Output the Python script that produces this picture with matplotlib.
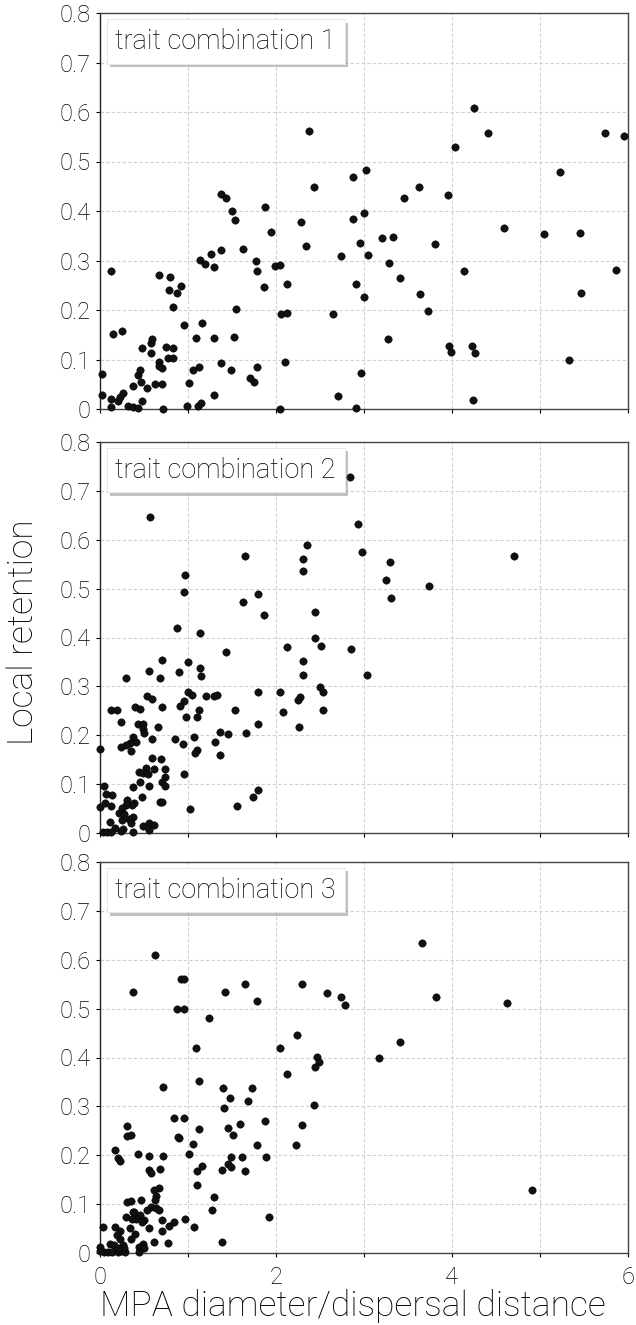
import matplotlib
matplotlib.use('Agg')
import matplotlib.pyplot as plt
import matplotlib.patheffects as pe

plt.rcParams['font.family'] = ['Roboto', 'DejaVu Sans']
plt.rcParams['font.weight'] = 'light'

# trait combination 1
x1 = [0.02, 0.02, 0.13, 0.15, 0.25, 0.13, 0.13, 0.20, 0.23, 0.26, 0.32, 0.38, 0.43, 0.38, 0.43,
      0.46, 0.47, 0.48, 0.53, 0.48, 0.58, 0.58, 0.59, 0.63, 0.67, 0.67, 0.71, 0.71, 0.72, 0.75,
      0.77, 0.83, 0.83, 0.67, 0.80, 0.78, 0.88, 0.92, 0.83, 0.95, 1.01, 0.99, 1.06, 1.13, 1.09,
      1.16, 1.11, 1.15, 1.14, 1.19, 1.26, 1.29, 1.29, 1.30, 1.37, 1.37, 1.38, 1.43, 1.50, 1.53,
      1.55, 1.52, 1.49, 1.63, 1.70, 1.75, 1.78, 1.77, 1.78, 1.86, 1.88, 1.94, 1.99, 2.05, 2.06,
      2.12, 2.12, 2.10, 2.05, 2.28, 2.34, 2.37, 2.43, 2.65, 2.70, 2.74, 2.88, 2.88, 2.91, 2.95,
      3.00, 3.00, 3.02, 3.04, 2.97, 2.91,
      4.25, 4.41, 4.03, 5.74, 5.95, 5.23, 3.63, 3.46, 3.96, 4.59, 5.04, 5.45, 3.20, 3.33, 3.81,
      3.28, 3.41, 4.14, 5.86, 3.64, 3.73, 5.47, 3.27, 3.97, 3.99, 4.23, 4.26, 5.33, 4.24]
y1 = [0.071, 0.028, 0.278, 0.152, 0.157, 0.020, 0.005, 0.017, 0.025, 0.032, 0.007, 0.005, 0.002, 0.046, 0.068,
      0.078, 0.054, 0.017, 0.043, 0.123, 0.113, 0.133, 0.142, 0.051, 0.095, 0.086, 0.082, 0.051, 0.000, 0.125,
      0.103, 0.103, 0.123, 0.270, 0.266, 0.240, 0.235, 0.248, 0.206, 0.170, 0.053, 0.007, 0.079, 0.084, 0.143,
      0.174, 0.007, 0.012, 0.302, 0.292, 0.314, 0.286, 0.143, 0.028, 0.321, 0.093, 0.434, 0.427, 0.399, 0.382,
      0.203, 0.145, 0.079, 0.324, 0.063, 0.055, 0.084, 0.299, 0.278, 0.247, 0.409, 0.358, 0.289, 0.291, 0.191,
      0.193, 0.252, 0.095, 0.000, 0.378, 0.330, 0.561, 0.448, 0.191, 0.027, 0.309, 0.468, 0.384, 0.252, 0.336,
      0.395, 0.226, 0.483, 0.312, 0.073, 0.002,
      0.609, 0.557, 0.530, 0.557, 0.552, 0.479, 0.449, 0.426, 0.432, 0.366, 0.353, 0.356, 0.346, 0.348, 0.334,
      0.294, 0.264, 0.278, 0.280, 0.232, 0.197, 0.235, 0.141, 0.127, 0.116, 0.128, 0.113, 0.099, 0.018]

# trait combination 2
x2 = [2.84, 0.565, 2.93, 2.35, 2.98, 1.65, 2.31, 2.31, 0.97, 0.95, 1.63, 1.80, 1.86, 2.44, 0.87,
      1.14, 2.44, 2.51, 2.12, 2.85, 1.43, 0.70, 1.00, 2.31, 2.31, 3.03, 0.56, 0.90, 1.14, 1.15,
      0.29, 0.68, 0.53, 0.59, 1.00, 1.04, 1.21, 1.30, 1.33, 1.79, 2.05, 2.50, 2.53, 2.27, 2.25,
      0.96, 0.91, 0.70, 0.13, 0.19, 0.40, 0.45, 1.13, 1.53, 2.53, 2.08, 0.98, 1.10, 0.24, 0.43,
      0.49, 0.66, 1.80, 2.26, 0.49, 0.50, 1.36, 1.46, 1.66, 0.38, 0.41, 0.59, 0.85, 1.07, 0.94,
      1.31, 0.34, 0.29, 0.24, 0.35, 0.00, 1.10, 1.08, 1.36, 0.59, 0.69, 0.52, 0.61, 0.74, 0.44,
      0.49, 0.54, 0.95, 0.74, 0.46, 0.71, 0.74, 0.56, 0.38, 0.05, 0.07, 0.14, 0.48, 0.31, 1.79,
      1.74, 0.68, 0.70, 0.39, 0.36, 0.30, 0.00, 0.06, 0.12, 0.25, 1.02, 1.56, 0.22, 0.27, 0.38,
      0.33, 0.25, 0.35, 0.11, 0.49, 0.56, 0.61, 0.56, 0.17, 0.26, 0.03, 0.08, 0.12, 0.24, 0.37,
      3.30, 4.70, 3.25, 3.74, 3.31]
y2 = [0.728, 0.646, 0.632, 0.590, 0.575, 0.567, 0.561, 0.537, 0.527, 0.493, 0.473, 0.488, 0.446, 0.452, 0.420,
      0.409, 0.399, 0.382, 0.380, 0.377, 0.370, 0.354, 0.349, 0.351, 0.324, 0.324, 0.332, 0.329, 0.338, 0.322,
      0.318, 0.318, 0.281, 0.275, 0.289, 0.282, 0.281, 0.281, 0.283, 0.289, 0.289, 0.298, 0.288, 0.279, 0.273,
      0.271, 0.260, 0.257, 0.252, 0.252, 0.257, 0.253, 0.252, 0.252, 0.252, 0.247, 0.238, 0.238, 0.228, 0.224,
      0.223, 0.217, 0.224, 0.217, 0.212, 0.204, 0.207, 0.203, 0.205, 0.197, 0.187, 0.192, 0.192, 0.197, 0.183,
      0.187, 0.184, 0.180, 0.175, 0.168, 0.171, 0.170, 0.164, 0.160, 0.154, 0.151, 0.134, 0.130, 0.130, 0.125,
      0.123, 0.120, 0.120, 0.114, 0.105, 0.105, 0.097, 0.097, 0.094, 0.097, 0.080, 0.077, 0.073, 0.068, 0.089,
      0.073, 0.064, 0.064, 0.062, 0.057, 0.057, 0.053, 0.062, 0.055, 0.051, 0.050, 0.055, 0.041, 0.038, 0.032,
      0.029, 0.027, 0.021, 0.022, 0.014, 0.021, 0.017, 0.007, 0.010, 0.008, 0.002, 0.002, 0.003, 0.005, 0.003,
      0.555, 0.566, 0.518, 0.506, 0.481]

# trait combination 3
x3 = [0.63, 0.92, 0.95, 0.38, 1.42, 1.65, 2.29, 2.58, 2.74, 2.78, 1.78, 0.87, 0.96, 1.24, 2.24,
      1.09, 2.05, 2.47, 2.49, 2.44, 2.13, 1.12, 0.72, 1.40, 1.73, 1.48, 1.68, 1.41, 2.43, 0.84,
      0.95, 1.88, 0.31, 1.59, 1.45, 1.13, 2.29, 0.31, 0.35, 1.51, 0.90, 0.89, 1.06, 1.78, 2.23,
      0.17, 0.20, 0.23, 0.43, 0.56, 0.72, 1.01, 1.49, 1.61, 1.89, 1.45, 1.16, 0.56, 0.58, 0.68,
      1.10, 1.39, 1.49, 1.65, 1.10, 0.67, 0.61, 1.29, 0.64, 0.62, 0.47, 0.31, 0.35, 1.27, 0.58,
      0.64, 0.67, 0.53, 0.37, 0.39, 0.46, 0.30, 0.41, 0.50, 0.48, 0.70, 0.97, 0.84, 0.78, 0.36,
      0.34, 0.56, 0.71, 0.03, 0.17, 0.23, 0.19, 0.23, 0.40, 0.35, 1.07, 1.92, 1.39, 0.61, 0.77,
      0.49, 0.44, 0.50, 0.11, 0.16, 0.26, 0.00, 0.00, 0.04, 0.09, 0.14, 0.20, 0.24, 0.28, 0.44,
      0.27, 0.20,
      3.66, 3.82, 4.63, 3.41, 3.17, 4.91]
y3 = [0.609, 0.560, 0.560, 0.535, 0.535, 0.551, 0.550, 0.531, 0.523, 0.507, 0.515, 0.500, 0.499, 0.480, 0.447,
      0.420, 0.420, 0.401, 0.391, 0.381, 0.367, 0.352, 0.339, 0.337, 0.337, 0.318, 0.312, 0.296, 0.303, 0.277,
      0.277, 0.271, 0.260, 0.264, 0.256, 0.254, 0.261, 0.240, 0.241, 0.241, 0.236, 0.238, 0.224, 0.220, 0.220,
      0.211, 0.194, 0.189, 0.203, 0.199, 0.199, 0.202, 0.197, 0.197, 0.197, 0.182, 0.179, 0.170, 0.163, 0.172,
      0.167, 0.170, 0.175, 0.167, 0.139, 0.134, 0.129, 0.114, 0.116, 0.109, 0.109, 0.105, 0.107, 0.087, 0.094,
      0.093, 0.087, 0.087, 0.084, 0.084, 0.078, 0.073, 0.070, 0.067, 0.063, 0.068, 0.069, 0.063, 0.056, 0.070,
      0.051, 0.052, 0.046, 0.053, 0.054, 0.046, 0.037, 0.029, 0.039, 0.029, 0.054, 0.073, 0.022, 0.022, 0.020,
      0.018, 0.012, 0.010, 0.018, 0.016, 0.016, 0.012, 0.005, 0.002, 0.002, 0.002, 0.002, 0.005, 0.002, 0.002,
      0.010, 0.010,
      0.635, 0.523, 0.512, 0.431, 0.399, 0.128]

labels = ['trait combination 1', 'trait combination 2', 'trait combination 3']
yticks = [0, 0.1, 0.2, 0.3, 0.4, 0.5, 0.6, 0.7, 0.8]
ytick_labels = ['0', '0.1', '0.2', '0.3', '0.4', '0.5', '0.6', '0.7', '0.8']
xticks = [0, 2, 4, 6]
xtick_labels = ['0', '2', '4', '6']

W, H = 636, 1325
fig = plt.figure(figsize=(W / 100, H / 100), dpi=100)

# panel boxes in pixels (top, bottom)
panels = [(13, 409), (442, 833), (862, 1253)]
data = [(x1, y1), (x2, y2), (x3, y3)]

for i, ((top, bot), (xs, ys)) in enumerate(zip(panels, data)):
    ax = fig.add_axes([100 / W, 1 - bot / H, 528 / W, (bot - top) / H])
    ax.set_axisbelow(True)
    ax.scatter(xs, ys, s=28, color='#111111', edgecolors='#000000', linewidths=0.4, zorder=3, clip_on=False)
    ax.set_xlim(0, 6)
    ax.set_ylim(0, 0.8)
    ax.set_xticks(xticks)
    ax.set_xticks([1, 3, 5], minor=True)
    ax.set_yticks(yticks)
    ax.set_yticklabels(ytick_labels)
    if i == 2:
        ax.set_xticklabels(xtick_labels)
    else:
        ax.set_xticklabels([])
    ax.grid(True, which='both', linestyle=(0, (3, 2)), color='#d0d0d0', linewidth=0.8)
    ax.tick_params(axis='both', which='both', labelsize=17, colors='#000000', length=3, width=0.8)
    ax.tick_params(axis='y', pad=4)
    ax.tick_params(axis='x', pad=6)
    for sp in ax.spines.values():
        sp.set_color('#444444')
        sp.set_linewidth(1.0)
    ax.spines['left'].set_color('#222222')

    t = ax.text(0.238, 0.928, labels[i], transform=ax.transAxes, ha='center', va='center',
                fontsize=19.5, color='#000000', zorder=5,
                bbox=dict(boxstyle='square,pad=0.32', facecolor='white', edgecolor='#e6e6e6', linewidth=0.6))
    t.get_bbox_patch().set_path_effects([pe.withSimplePatchShadow(offset=(2.5, -2.5), shadow_rgbFace='#666666', alpha=0.4), pe.Normal()])

fig.text(0.036, 1 - 632 / H, 'Local retention', rotation=90, ha='center', va='center', fontsize=25.5, color='#000000')
fig.text(0.555, 1 - 1306 / H, 'MPA diameter/dispersal distance', ha='center', va='center', fontsize=25.5, color='#000000')

fig.savefig('out.png', dpi=100)
